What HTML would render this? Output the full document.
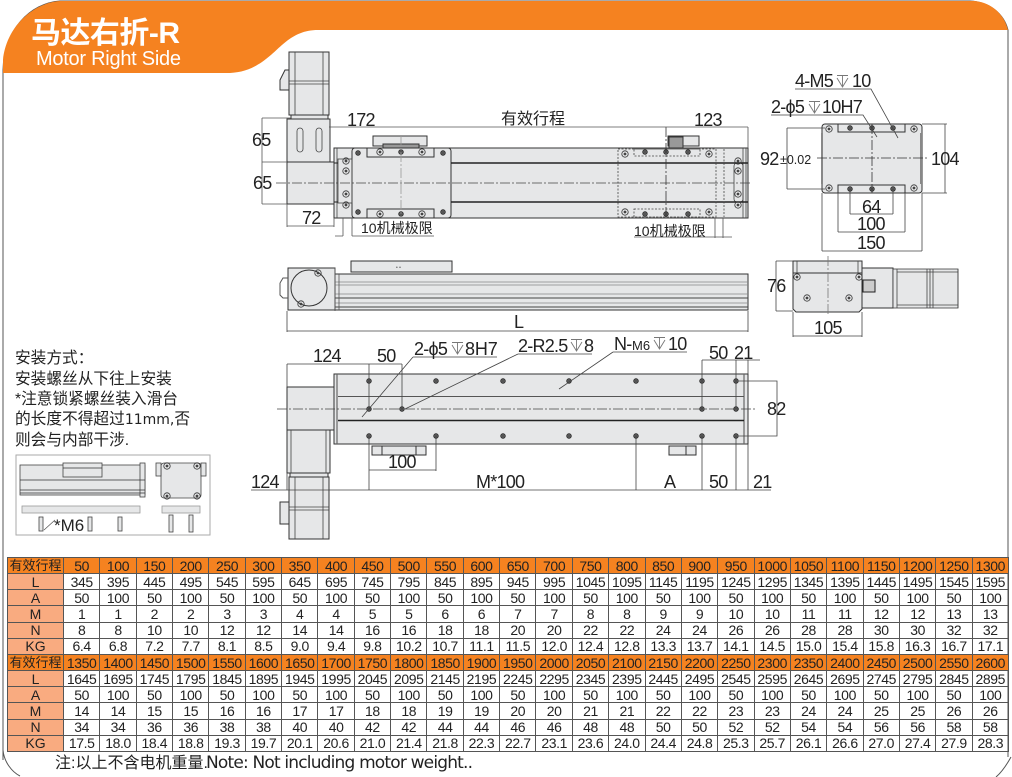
<!DOCTYPE html>
<html><head><meta charset="utf-8"><style>
html,body{margin:0;padding:0;background:#fff;width:1012px;height:777px;overflow:hidden}
svg{position:absolute;left:0;top:0}
svg text{font-family:"Liberation Sans","Noto Sans CJK SC",sans-serif;fill:#222}
svg text.d{font-size:18px;letter-spacing:-.75px}
table{position:absolute;left:7px;top:557px;width:1002px;height:195px;border-collapse:collapse;table-layout:fixed;font:14px/14px "Liberation Sans","Noto Sans CJK SC",sans-serif;letter-spacing:-.4px;color:#222;text-align:center}
td{border:1px solid #555;padding:0;height:15px;overflow:hidden;white-space:nowrap}
td:first-child{background:#f9ab80;letter-spacing:0}
tr.h td{background:#f58220}
tr.h td:first-child{background:#f58220;font-size:13px}
</style></head><body>
<svg width="1012" height="777" viewBox="0 0 1012 777">
<defs>
<g id="h"><circle r="2.400" fill="#555" stroke="#222" stroke-width=".6"/></g>
<g id="r"><circle r="3.200" fill="none" stroke="#333" stroke-width=".8"/><circle r="1.400" fill="#444"/></g>
<g id="d" fill="none" stroke="#777" stroke-width=".9"><path d="M0 .5H11M5.500 .5V12M0 3L5.500 12L11 3"/></g>
</defs>
<path d="M3 760V70C4 30 30 3 60 1H970C990 2 1004 14 1008 30V757" fill="none" stroke="#555" stroke-width="1"/>
<path d="M3 73V60C6 28 32 3 60 1H975C992 3 1004 14 1008 30H318C290 30 280 50 262 62C250 70 240 73 226 73Z" fill="#f58220"/>
<path d="M3 750C4 762 12 772 20 776M1011 757C1006 766 1002 772 996 777" fill="none" stroke="#555"/>
<text x="31" y="43" font-size="30" font-weight="bold" style="fill:#fff" textLength="149">马达右折-R</text>
<text x="36" y="65" font-size="20" style="fill:#fff" textLength="145">Motor Right Side</text>

<!-- top view -->
<g stroke="#333" fill="#e6e7e8">
<rect x="289" y="52" width="40" height="63"/>
<path d="M280 80L285 70H289V90H280Z"/>
<rect x="291" y="115" width="37" height="4"/>
<rect x="287" y="119" width="43" height="43"/>
<rect x="287" y="162" width="47" height="42"/>
<rect x="334" y="148" width="414" height="70"/>
<rect x="352" y="148" width="99" height="70" rx="3"/>
<rect x="373" y="136" width="54" height="10"/>
<rect x="668" y="136" width="31" height="10"/>
<rect x="383" y="144" width="36" height="4" fill="#999"/>
<rect x="669" y="137" width="14" height="11" fill="#999"/>
</g>
<g stroke="#444" fill="none" stroke-width=".8">
<path d="M295 52V115M323 52V115M289 81H329M289 84H329"/>
<rect x="297" y="128" width="6" height="24" rx="3"/><rect x="316" y="128" width="6" height="24" rx="3"/>
<path d="M337 148V218M743 148V218M746 148V218"/>
<rect x="338" y="159" width="14" height="44"/>
<rect x="734" y="163" width="9" height="39" rx="3"/>
</g>
<path d="M451 163H748M451 202H748" stroke="#222" stroke-width="1.400"/>
<path d="M334 163H338M334 202H338" stroke="#222" stroke-width="1"/>
<rect x="367" y="148" width="67" height="9" fill="#e6e7e8" stroke="#333"/>
<rect x="367" y="209" width="67" height="9" fill="#e6e7e8" stroke="#333"/>
<path d="M618 149H716V217H618ZM634 149H700V156H634ZM634 209H700V217H634ZM724 149V217" fill="none" stroke="#444" stroke-width=".8" stroke-dasharray="2 1.500"/>
<g>
<use href="#r" x="380" y="152"/><use href="#h" x="401" y="152"/><use href="#r" x="422" y="152"/>
<use href="#r" x="380" y="214"/><use href="#h" x="401" y="214"/><use href="#r" x="422" y="214"/>
<use href="#h" x="358" y="153"/><use href="#h" x="443" y="153"/><use href="#h" x="358" y="212"/><use href="#h" x="443" y="212"/>
<use href="#h" x="645" y="152"/><use href="#h" x="666" y="152"/><use href="#h" x="688" y="152"/>
<use href="#h" x="645" y="214"/><use href="#h" x="666" y="214"/><use href="#h" x="688" y="214"/>
<use href="#r" x="346" y="161"/><use href="#r" x="346" y="171"/><use href="#r" x="346" y="194"/><use href="#r" x="346" y="205"/>
<use href="#r" x="738" y="161"/><use href="#r" x="738" y="171"/><use href="#r" x="738" y="194"/><use href="#r" x="738" y="205"/>
<use href="#r" x="625" y="154"/><use href="#r" x="709" y="154"/><use href="#r" x="625" y="212"/><use href="#r" x="709" y="212"/>
</g>
<path d="M276 183H752" stroke="#444" stroke-width=".8" stroke-dasharray="10 2 2 2" fill="none"/>
<path d="M401 136V218" stroke="#999" stroke-width=".8" stroke-dasharray="10 2 2 2"/>
<path d="M666 127V218" stroke="#333" stroke-width=".8" stroke-dasharray="10 2 2 2"/>
<g stroke="#555" stroke-width=".8" fill="none">
<path d="M262 118V204M262 118H291M262 162H287M262 204H287M287 204V227M334 218V227M287 226H334"/>
<path d="M329 127H748M748 127V148"/>
<path d="M335 236H343M343 218V236M352 218V236M352 236H434"/>
<path d="M634 237H732M715 218V238M723 218V238"/>
</g>
<text class="d" x="252" y="146">65</text>
<text class="d" x="253" y="189">65</text>
<text class="d" x="302" y="224">72</text>
<text class="d" x="347" y="126">172</text>
<text x="501" y="124" font-size="16">有效行程</text>
<text class="d" x="694" y="126">123</text>
<text x="361" y="233" font-size="14">10机械极限</text>
<text x="634" y="236" font-size="14">10机械极限</text>

<!-- end view -->
<rect x="822" y="124" width="100" height="69" rx="3" fill="#e6e7e8" stroke="#333"/>
<rect x="838" y="124" width="67" height="8" fill="#e6e7e8" stroke="#333"/>
<rect x="838" y="185" width="67" height="8" fill="#e6e7e8" stroke="#333"/>
<path d="M822 133V184M921 133V184" stroke="#888" stroke-width="2"/>
<use href="#h" x="850" y="128"/><use href="#h" x="872" y="128"/><use href="#h" x="893" y="128"/>
<use href="#h" x="850" y="189"/><use href="#h" x="872" y="189"/><use href="#h" x="893" y="189"/>
<use href="#r" x="829" y="129"/><use href="#r" x="914" y="129"/><use href="#r" x="829" y="188"/><use href="#r" x="914" y="188"/>
<path d="M817 158H927" stroke="#333" stroke-width=".8" stroke-dasharray="10 2 2 2"/>
<path d="M872 124V193" stroke="#333" stroke-width=".8" stroke-dasharray="10 2 2 2"/>
<g stroke="#444" stroke-width=".8" fill="none">
<path d="M795 89H871L898 138M771 115H863L877 137"/>
<path d="M787 128V189M787 128H825M787 189H825M945 124V193M922 124H947M922 193H947"/>
<path d="M850 189V214M893 189V214M850 214H893"/>
<path d="M838 193V232M905 193V232M838 232H905"/>
<path d="M822 193V251M922 193V251M822 251H922"/>
</g>
<text class="d" x="795" y="87">4-M5</text><use href="#d" x="837" y="75"/><text class="d" x="852" y="87">10</text>
<text class="d" x="771" y="113">2-ϕ5</text><use href="#d" x="809" y="101"/><text class="d" x="822" y="113" textLength="40">10H7</text>
<text class="d" x="760" y="165">92</text>
<text x="780" y="164" font-size="12.500">±0.02</text>
<text class="d" x="931" y="165">104</text>
<text class="d" x="862" y="213">64</text>
<text class="d" x="857" y="230">100</text>
<text class="d" x="857" y="249">150</text>

<!-- side view right -->
<g stroke="#333" fill="#e6e7e8">
<rect x="793" y="261" width="69" height="12"/>
<rect x="862" y="268" width="31" height="40"/>
<path d="M893 269H958V308H893Z" stroke-width=".8"/>
<path d="M793 273H862V309L859 312H796L793 309Z"/>
</g>
<path d="M897 269V308M927 269V308M930 269V308M933 269V308M958 269V308M897 272H958M897 305H958M797 261V273M858 261V273" stroke="#444" stroke-width=".8" fill="none"/>
<rect x="863" y="280" width="12" height="12" fill="#ccc" stroke="#222"/>
<use href="#r" x="797" y="277"/><use href="#r" x="859" y="277"/><use href="#r" x="807" y="298"/><use href="#r" x="849" y="298"/>
<path d="M828 256V316" stroke="#777" stroke-width=".8" stroke-dasharray="10 2 2 2"/>
<g stroke="#444" stroke-width=".8" fill="none"><path d="M776 261V311M776 261H793M776 311H793M793 312V337M862 312V337M793 336H862"/></g>
<text class="d" x="767" y="292">76</text>
<text class="d" x="814" y="334">105</text>

<!-- side view -->
<g stroke="#333" fill="#e6e7e8">
<rect x="351" y="261" width="101" height="11"/>
<rect x="288" y="268" width="47" height="42"/>
<rect x="335" y="274" width="413" height="36"/>
</g>
<path d="M280 283V295L283 298H288M280 283L283 278H288" fill="none" stroke="#555"/>
<circle cx="309" cy="288" r="18" fill="none" stroke="#333"/>
<use href="#r" x="318" y="273"/><use href="#r" x="301" y="304"/>
<path d="M335 282H748M335 285H748M335 294H748M335 303H748" stroke="#888" stroke-width=".8"/>
<path d="M335 298H748M335 307H748" stroke="#444" stroke-width="1"/>
<path d="M335 268V311M339 274V310" stroke="#555" stroke-width=".8"/>
<text x="396" y="269" font-size="5" style="fill:#555">• •</text>
<g stroke="#444" stroke-width=".8" fill="none"><path d="M287 311V332M748 311V332M287 331H748"/></g>
<text class="d" x="514" y="328">L</text>

<!-- bottom view -->
<g stroke="#333" fill="#e6e7e8">
<rect x="334" y="374" width="414" height="70"/>
<rect x="287" y="387" width="47" height="43"/>
<rect x="287" y="430" width="43" height="43"/>
<rect x="289" y="477" width="40" height="62"/>
<rect x="290" y="473" width="38" height="4"/>
<rect x="280" y="502" width="9" height="22"/>
<rect x="372" y="446" width="54" height="9"/><rect x="669" y="446" width="27" height="9"/>
<rect x="382" y="446" width="34" height="9"/><rect x="669" y="446" width="17" height="9"/>
</g>
<path d="M337 374V444M744 374V444" stroke="#666" stroke-width="1.200"/>
<path d="M338 396.500H744" stroke="#555"/><path d="M338 420.500H744" stroke="#222" stroke-width="1.400"/>
<path d="M289 507H329M289 510H329M295 477V539M323 477V539M291 430V473M326 430V473" stroke="#444" stroke-width=".8" fill="none"/>
<g>
<use href="#h" x="369" y="381"/><use href="#h" x="436" y="381"/><use href="#h" x="503" y="381"/><use href="#h" x="569" y="381"/><use href="#h" x="636" y="381"/><use href="#h" x="702" y="381"/><use href="#h" x="736" y="381"/>
<use href="#h" x="369" y="436"/><use href="#h" x="436" y="436"/><use href="#h" x="503" y="436"/><use href="#h" x="569" y="436"/><use href="#h" x="636" y="436"/><use href="#h" x="702" y="436"/><use href="#h" x="736" y="436"/>
<use href="#h" x="369" y="409"/><use href="#h" x="402" y="409"/><use href="#h" x="702" y="409"/><use href="#h" x="736" y="409"/>
</g>
<path d="M277 409H755" stroke="#444" stroke-width=".8" stroke-dasharray="10 2 2 2"/>
<g stroke="#444" stroke-width=".8" fill="none">
<path d="M287 387V364M287 364H402M369 364V409M402 364V409"/>
<path d="M702 409V360M736 409V360M702 360H760M748 374V360"/>
<path d="M739 381H777V436H739"/>
<path d="M369 436V490M436 436V471M369 470H436M636 436V490M702 436V490M736 436V490M748 444V490M287 473V490"/>
<path d="M251 490H771"/>
<path d="M413 357H497M362 417L413 357M518 354H592M405 409L518 354M613 352H687M559 389L613 352"/>
</g>
<text class="d" x="313" y="362">124</text>
<text class="d" x="377" y="362">50</text>
<text class="d" x="414" y="355">2-ϕ5</text><use href="#d" x="452" y="342"/><text class="d" x="465" y="355" textLength="32">8H7</text>
<text class="d" x="518" y="352">2-R2.5</text><use href="#d" x="571" y="339"/><text class="d" x="584" y="352">8</text>
<text class="d" x="614" y="350">N-</text><text x="632" y="350" font-size="13">M6</text><use href="#d" x="654" y="337"/><text class="d" x="668" y="350">10</text>
<text class="d" x="709" y="359">50</text>
<text class="d" x="734" y="359">21</text>
<text class="d" x="767" y="415">82</text>
<text class="d" x="388" y="468">100</text>
<text class="d" x="251" y="488">124</text>
<text class="d" x="476" y="488">M*100</text>
<text class="d" x="664" y="488">A</text>
<text class="d" x="709" y="488">50</text>
<text class="d" x="753" y="488">21</text>

<!-- install note -->
<g font-size="15.700">
<text x="15" y="363">安装方式：</text>
<text x="15" y="384">安装螺丝从下往上安装</text>
<text x="15" y="404">*注意锁紧螺丝装入滑台</text>
<text x="15" y="424">的长度不得超过<tspan style="font-family:'DejaVu Sans',sans-serif" font-size="14">11mm,</tspan>否</text>
<text x="15" y="445">则会与内部干涉.</text>
</g>
<rect x="16" y="455" width="194" height="80" fill="#fff" stroke="#aaa"/>
<g stroke="#444" fill="#e6e7e8" stroke-width=".8">
<rect x="20" y="465" width="125" height="30"/>
<rect x="63" y="463" width="39" height="14"/>
<rect x="140" y="463" width="5" height="34"/>
<rect x="161" y="463" width="40" height="35" rx="3"/>
<rect x="156" y="463" width="5" height="13"/><rect x="201" y="463" width="5" height="13"/>
<rect x="22" y="506" width="118" height="7" stroke="#999"/>
<rect x="162" y="506" width="38" height="7" stroke="#999"/>
<rect x="39" y="517" width="4" height="14"/><rect x="88" y="517" width="4" height="14"/><rect x="118" y="517" width="4" height="14"/><rect x="169" y="515" width="4" height="17"/><rect x="189" y="515" width="4" height="17"/>
</g>
<path d="M20 480H145M20 490H145M20 493H145M63 468H102" stroke="#333" stroke-width=".8"/>
<use href="#r" x="167" y="466"/><use href="#r" x="197" y="466"/><use href="#r" x="167" y="496"/><use href="#r" x="197" y="496"/>
<path d="M44 530L55 520" stroke="#444" stroke-width=".6"/>
<text x="54" y="531" font-size="17">*M6</text>

<text x="55" y="768" font-size="16">注:以上不含电机重量.</text>
<text x="206" y="768" font-size="17" textLength="267" style="font-family:'DejaVu Sans',sans-serif">Note: Not including motor weight..</text>
</svg>

<table>
<colgroup><col style="width:56px"></colgroup>
<tr class="h"><td>有效行程</td><td>50</td><td>100</td><td>150</td><td>200</td><td>250</td><td>300</td><td>350</td><td>400</td><td>450</td><td>500</td><td>550</td><td>600</td><td>650</td><td>700</td><td>750</td><td>800</td><td>850</td><td>900</td><td>950</td><td>1000</td><td>1050</td><td>1100</td><td>1150</td><td>1200</td><td>1250</td><td>1300</td></tr>
<tr><td>L</td><td>345</td><td>395</td><td>445</td><td>495</td><td>545</td><td>595</td><td>645</td><td>695</td><td>745</td><td>795</td><td>845</td><td>895</td><td>945</td><td>995</td><td>1045</td><td>1095</td><td>1145</td><td>1195</td><td>1245</td><td>1295</td><td>1345</td><td>1395</td><td>1445</td><td>1495</td><td>1545</td><td>1595</td></tr>
<tr><td>A</td><td>50</td><td>100</td><td>50</td><td>100</td><td>50</td><td>100</td><td>50</td><td>100</td><td>50</td><td>100</td><td>50</td><td>100</td><td>50</td><td>100</td><td>50</td><td>100</td><td>50</td><td>100</td><td>50</td><td>100</td><td>50</td><td>100</td><td>50</td><td>100</td><td>50</td><td>100</td></tr>
<tr><td>M</td><td>1</td><td>1</td><td>2</td><td>2</td><td>3</td><td>3</td><td>4</td><td>4</td><td>5</td><td>5</td><td>6</td><td>6</td><td>7</td><td>7</td><td>8</td><td>8</td><td>9</td><td>9</td><td>10</td><td>10</td><td>11</td><td>11</td><td>12</td><td>12</td><td>13</td><td>13</td></tr>
<tr><td>N</td><td>8</td><td>8</td><td>10</td><td>10</td><td>12</td><td>12</td><td>14</td><td>14</td><td>16</td><td>16</td><td>18</td><td>18</td><td>20</td><td>20</td><td>22</td><td>22</td><td>24</td><td>24</td><td>26</td><td>26</td><td>28</td><td>28</td><td>30</td><td>30</td><td>32</td><td>32</td></tr>
<tr><td>KG</td><td>6.4</td><td>6.8</td><td>7.2</td><td>7.7</td><td>8.1</td><td>8.5</td><td>9.0</td><td>9.4</td><td>9.8</td><td>10.2</td><td>10.7</td><td>11.1</td><td>11.5</td><td>12.0</td><td>12.4</td><td>12.8</td><td>13.3</td><td>13.7</td><td>14.1</td><td>14.5</td><td>15.0</td><td>15.4</td><td>15.8</td><td>16.3</td><td>16.7</td><td>17.1</td></tr>
<tr class="h"><td>有效行程</td><td>1350</td><td>1400</td><td>1450</td><td>1500</td><td>1550</td><td>1600</td><td>1650</td><td>1700</td><td>1750</td><td>1800</td><td>1850</td><td>1900</td><td>1950</td><td>2000</td><td>2050</td><td>2100</td><td>2150</td><td>2200</td><td>2250</td><td>2300</td><td>2350</td><td>2400</td><td>2450</td><td>2500</td><td>2550</td><td>2600</td></tr>
<tr><td>L</td><td>1645</td><td>1695</td><td>1745</td><td>1795</td><td>1845</td><td>1895</td><td>1945</td><td>1995</td><td>2045</td><td>2095</td><td>2145</td><td>2195</td><td>2245</td><td>2295</td><td>2345</td><td>2395</td><td>2445</td><td>2495</td><td>2545</td><td>2595</td><td>2645</td><td>2695</td><td>2745</td><td>2795</td><td>2845</td><td>2895</td></tr>
<tr><td>A</td><td>50</td><td>100</td><td>50</td><td>100</td><td>50</td><td>100</td><td>50</td><td>100</td><td>50</td><td>100</td><td>50</td><td>100</td><td>50</td><td>100</td><td>50</td><td>100</td><td>50</td><td>100</td><td>50</td><td>100</td><td>50</td><td>100</td><td>50</td><td>100</td><td>50</td><td>100</td></tr>
<tr><td>M</td><td>14</td><td>14</td><td>15</td><td>15</td><td>16</td><td>16</td><td>17</td><td>17</td><td>18</td><td>18</td><td>19</td><td>19</td><td>20</td><td>20</td><td>21</td><td>21</td><td>22</td><td>22</td><td>23</td><td>23</td><td>24</td><td>24</td><td>25</td><td>25</td><td>26</td><td>26</td></tr>
<tr><td>N</td><td>34</td><td>34</td><td>36</td><td>36</td><td>38</td><td>38</td><td>40</td><td>40</td><td>42</td><td>42</td><td>44</td><td>44</td><td>46</td><td>46</td><td>48</td><td>48</td><td>50</td><td>50</td><td>52</td><td>52</td><td>54</td><td>54</td><td>56</td><td>56</td><td>58</td><td>58</td></tr>
<tr><td>KG</td><td>17.5</td><td>18.0</td><td>18.4</td><td>18.8</td><td>19.3</td><td>19.7</td><td>20.1</td><td>20.6</td><td>21.0</td><td>21.4</td><td>21.8</td><td>22.3</td><td>22.7</td><td>23.1</td><td>23.6</td><td>24.0</td><td>24.4</td><td>24.8</td><td>25.3</td><td>25.7</td><td>26.1</td><td>26.6</td><td>27.0</td><td>27.4</td><td>27.9</td><td>28.3</td></tr>
</table>
</body></html>
